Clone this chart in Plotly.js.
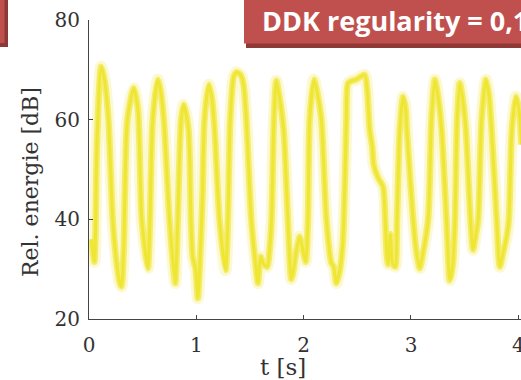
<!DOCTYPE html>
<html>
<head>
<meta charset="utf-8">
<script src="https://cdn.plot.ly/plotly-3.0.1.min.js"></script>
<style>
  html, body { margin: 0; padding: 0; background: #ffffff; overflow: hidden; }
  #chart { width: 521px; height: 380px; }
</style>
</head>
<body>
<div id="chart"></div>
<script>
// ---- data ----
const timeSec = [
  0.022, 0.050, 0.074, 0.113, 0.144, 0.181, 0.221, 0.256, 0.284, 0.302,
  0.325, 0.334, 0.358, 0.417, 0.456, 0.492, 0.548, 0.568, 0.594, 0.641,
  0.666, 0.697, 0.750, 0.803, 0.827, 0.859, 0.883, 0.927, 0.950, 0.967,
  0.993, 1.014, 1.035, 1.058, 1.076, 1.117, 1.147, 1.170, 1.216, 1.272,
  1.294, 1.316, 1.347, 1.372, 1.412, 1.440, 1.466, 1.512, 1.552, 1.574,
  1.599, 1.627, 1.660, 1.683, 1.701, 1.723, 1.745, 1.771, 1.813, 1.853,
  1.885, 1.907, 1.935, 1.963, 2.000, 2.019, 2.040, 2.056, 2.096, 2.126,
  2.165, 2.212, 2.258, 2.280, 2.305, 2.330, 2.364, 2.387, 2.398, 2.413,
  2.448, 2.485, 2.522, 2.569, 2.592, 2.615, 2.639, 2.653, 2.690, 2.740,
  2.760, 2.774, 2.787, 2.807, 2.830, 2.853, 2.870, 2.896, 2.926, 2.951,
  2.961, 3.020, 3.054, 3.082, 3.110, 3.160, 3.191, 3.222, 3.250, 3.285,
  3.331, 3.362, 3.390, 3.410, 3.430, 3.455, 3.483, 3.511, 3.555, 3.579,
  3.605, 3.626, 3.658, 3.698, 3.726, 3.751, 3.798, 3.828, 3.856, 3.891,
  3.912, 3.940, 3.978, 4.006, 4.030
];
const relEnergyDb = [
  36.0, 31.5, 55.0, 70.6, 68.0, 60.0, 40.0, 31.5, 27.5, 26.5,
  35.0, 45.0, 60.0, 66.3, 62.0, 40.0, 30.2, 40.0, 60.0, 68.0,
  66.0, 60.0, 40.0, 27.2, 40.0, 60.0, 63.0, 58.0, 40.0, 32.4,
  30.0, 24.2, 32.0, 45.0, 60.0, 67.0, 64.0, 58.0, 40.0, 29.8,
  40.0, 60.0, 68.5, 69.5, 69.0, 67.0, 60.0, 40.0, 31.0, 27.2,
  32.5, 31.0, 30.5, 34.0, 40.0, 60.0, 67.8, 65.0, 58.0, 40.0,
  28.0, 30.0, 34.0, 36.5, 33.0, 31.5, 40.0, 60.0, 68.0, 65.5,
  60.0, 40.0, 31.3, 30.5, 27.2, 29.0, 35.0, 50.0, 60.0, 67.3,
  67.8, 68.0, 68.5, 69.0, 66.0, 58.0, 54.6, 51.0, 48.5, 46.5,
  40.0, 33.0, 31.0, 37.0, 31.0, 30.5, 40.0, 58.0, 64.6, 62.0,
  58.0, 40.0, 33.0, 30.2, 33.0, 40.0, 60.0, 68.0, 65.0, 58.0,
  40.0, 27.8, 31.0, 40.0, 60.0, 67.3, 64.0, 58.0, 40.0, 33.9,
  37.0, 40.0, 60.0, 68.0, 65.0, 58.0, 40.0, 30.5, 33.0, 36.5,
  40.0, 58.0, 64.6, 62.0, 55.0
];
const xTickVals = [0, 1, 2, 3, 4];
const xTickText = ['0', '1', '2', '3', '4'];
const yTickVals = [20, 40, 60, 80];
const yTickText = ['20', '40', '60', '80'];
const xLabel = 't [s]';
const yLabel = 'Rel. energie [dB]';
const boxText = 'DDK regularity = 0,1';

// ---- layout helpers (pixel -> paper) ----
const W = 521, H = 380;
const ML = 89, MR = 0, MT = 20, MB = 61;
const PW = W - ML - MR, PH = H - MT - MB;
const px = v => (v - ML) / PW;
const py = v => (H - MB - v) / PH;

const serif = 'DejaVu Serif, Liberation Serif, serif';

const common = { x: timeSec, y: relEnergyDb, mode: 'lines', hoverinfo: 'skip', showlegend: false };
const traces = [
  Object.assign({}, common, { line: { color: 'rgba(248,242,150,0.45)', width: 12, shape: 'spline', smoothing: 0.7 } }),
  Object.assign({}, common, { line: { color: '#f4ec6c', width: 6.5, shape: 'spline', smoothing: 0.7 } }),
  Object.assign({}, common, { line: { color: '#efe633', width: 3, shape: 'spline', smoothing: 0.7 } })
];

const layout = {
  width: W, height: H,
  margin: { l: ML, r: MR, t: MT, b: MB, pad: 0 },
  paper_bgcolor: '#ffffff', plot_bgcolor: '#ffffff',
  xaxis: {
    range: [0, 4.025], showgrid: false, zeroline: false,
    showline: true, linecolor: '#444444', linewidth: 1,
    ticks: 'inside', ticklen: 4, tickcolor: '#444444',
    tickvals: xTickVals, ticktext: xTickText,
    tickfont: { family: serif, size: 20, color: '#333333' },
    ticklabelstandoff: 8, ticklabeloverflow: 'allow'
  },
  yaxis: {
    range: [20, 80], showgrid: false, zeroline: false,
    showline: true, linecolor: '#444444', linewidth: 1,
    ticks: 'inside', ticklen: 4, tickcolor: '#444444',
    tickvals: yTickVals, ticktext: yTickText,
    tickfont: { family: serif, size: 20, color: '#333333' },
    ticklabelstandoff: 4
  },
  shapes: [
    // left red box (shadow + body)
    { type: 'rect', xref: 'paper', yref: 'paper', x0: px(-5), x1: px(8), y0: py(47), y1: py(-5), fillcolor: '#8f3936', line: { width: 0 }, layer: 'above' },
    { type: 'rect', xref: 'paper', yref: 'paper', x0: px(-5), x1: px(4.5), y0: py(43), y1: py(-5), fillcolor: '#c0504d', line: { width: 0 }, layer: 'above' },
    // right red box (shadow + body)
    { type: 'rect', xref: 'paper', yref: 'paper', x0: px(246), x1: px(530), y0: py(48), y1: py(-5), fillcolor: '#8f3936', line: { width: 0 }, layer: 'above' },
    { type: 'rect', xref: 'paper', yref: 'paper', x0: px(244), x1: px(530), y0: py(43.5), y1: py(-5), fillcolor: '#c0504d', line: { width: 0 }, layer: 'above' }
  ],
  annotations: [
    { xref: 'paper', yref: 'paper', x: px(260), y: py(20), xanchor: 'left', yanchor: 'middle',
      text: '<b>' + boxText + '</b>', showarrow: false,
      font: { family: 'Open Sans, Lato, sans-serif', size: 27, color: '#ffffff' } },
    { xref: 'paper', yref: 'paper', x: px(283), y: py(367), xanchor: 'center', yanchor: 'middle',
      text: xLabel, showarrow: false,
      font: { family: serif, size: 23, color: '#333333' } },
    { xref: 'paper', yref: 'paper', x: px(30), y: py(182), xanchor: 'center', yanchor: 'middle',
      text: yLabel, textangle: -90, showarrow: false,
      font: { family: serif, size: 22, color: '#333333' } }
  ]
};

Plotly.newPlot('chart', traces, layout, { displayModeBar: false, staticPlot: true });
</script>
</body>
</html>
